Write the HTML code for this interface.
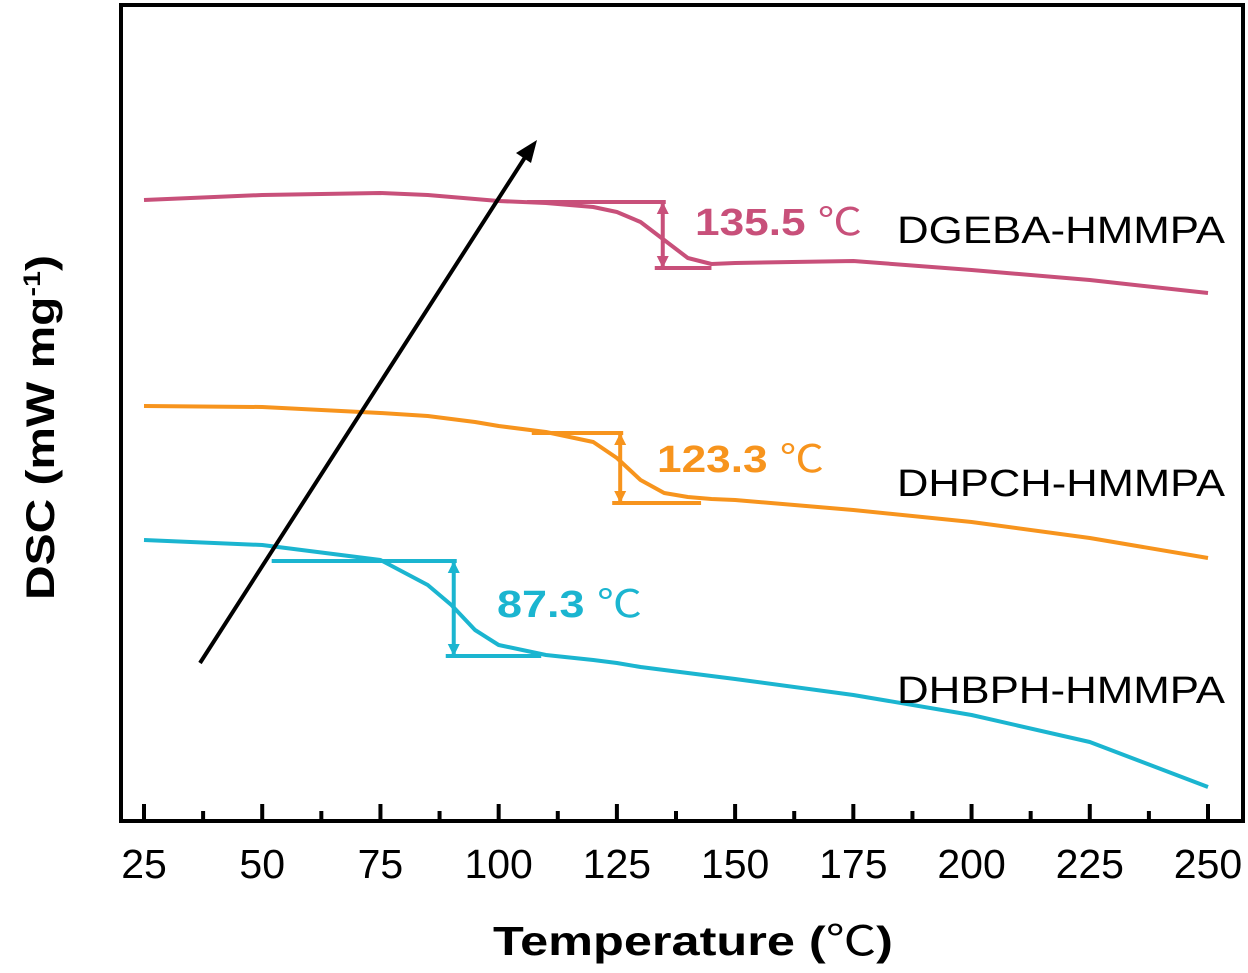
<!DOCTYPE html>
<html><head><meta charset="utf-8"><style>
html,body{margin:0;padding:0;background:#fff;}
svg{display:block;font-family:"Liberation Sans","Noto Sans CJK SC",sans-serif;}
</style></head><body>
<svg id="chart" width="1248" height="973" viewBox="0 0 1248 973">
<rect x="121" y="5" width="1122" height="816" fill="none" stroke="#000" stroke-width="4"/>
<g id="ticks"></g>
<g id="series"></g>
<line x1="200" y1="663" x2="531" y2="148" stroke="#000" stroke-width="4"/>
<polygon points="537,140 516,153 531,163" fill="#000"/>
<text x="695" y="235" font-size="38" font-weight="bold" fill="#c8507a" textLength="167" lengthAdjust="spacingAndGlyphs">135.5 <tspan font-weight="normal">℃</tspan></text>
<text x="657" y="472" font-size="38" font-weight="bold" fill="#f7941d" textLength="167" lengthAdjust="spacingAndGlyphs">123.3 <tspan font-weight="normal">℃</tspan></text>
<text x="497" y="617" font-size="38" font-weight="bold" fill="#1bb5d0" textLength="145" lengthAdjust="spacingAndGlyphs">87.3 <tspan font-weight="normal">℃</tspan></text>
<text x="897" y="243" font-size="38" fill="#000" textLength="328" lengthAdjust="spacingAndGlyphs">DGEBA-HMMPA</text>
<text x="897" y="496" font-size="38" fill="#000" textLength="328" lengthAdjust="spacingAndGlyphs">DHPCH-HMMPA</text>
<text x="897" y="703" font-size="38" fill="#000" textLength="328" lengthAdjust="spacingAndGlyphs">DHBPH-HMMPA</text>
<text x="493" y="955" font-size="41" font-weight="bold" textLength="400" lengthAdjust="spacingAndGlyphs">Temperature (<tspan font-weight="normal">℃</tspan>)</text>
<text transform="translate(54,600) rotate(-90)" font-size="40" font-weight="bold" textLength="345" lengthAdjust="spacingAndGlyphs">DSC (mW mg<tspan dy="-14" font-size="24">-1</tspan><tspan dy="14">)</tspan></text>
</svg>
<script>
const xTicks=[25,50,75,100,125,150,175,200,225,250];
const temps=[25,50,75,85,90,95,100,110,120,125,130,135,140,145,150,175,200,225,250];
const dgeba=[622,627,629,627,625,623,621,619,615,610,600,582,564,558,559,561,552,542,529];
const dhpch=[416,415,409,406,403,400,396,390,380,364,342,329,325,323,322,312,300,284,264];
const dhbph=[282,277,262,237,217,192,177,167,162,159,155,152,149,146,143,127,107,80,35];
const tgTemps=[134.7,125.7,90.5];
const tgUpper=[620,389,261];
const tgLower=[554,319,166];
const tgStart=[106,107,52];
const tgEnd=[145,142.8,109];
const colors=['#c8507a','#f7941d','#1bb5d0'];
const names=['dgeba','dhpch','dhbph'];
const X=t=>144+(t-25)*(1064/225);
const Y=v=>822-v;
const NS='http://www.w3.org/2000/svg';
const tg=document.getElementById('ticks');
xTicks.forEach((t,i)=>{
  const l=document.createElementNS(NS,'line');
  l.setAttribute('x1',X(t));l.setAttribute('x2',X(t));l.setAttribute('y1',821);l.setAttribute('y2',804);
  l.setAttribute('stroke','#000');l.setAttribute('stroke-width','4');
  
  
  tg.appendChild(l);
  if(i<xTicks.length-1){
    const m=document.createElementNS(NS,'line');
    const tm=t+12.5;
    m.setAttribute('x1',X(tm));m.setAttribute('x2',X(tm));m.setAttribute('y1',821);m.setAttribute('y2',811);
    m.setAttribute('stroke','#000');m.setAttribute('stroke-width','4');
    
    
    tg.appendChild(m);
  }
  const tx=document.createElementNS(NS,'text');
  tx.setAttribute('x',X(t));tx.setAttribute('y',878);tx.setAttribute('font-size','41');tx.setAttribute('text-anchor','middle');
  tx.textContent=t;
  
  
  tg.appendChild(tx);
});
const sg=document.getElementById('series');
[dgeba,dhpch,dhbph].forEach((vals,k)=>{
  const p=document.createElementNS(NS,'polyline');
  p.setAttribute('points',temps.map((t,i)=>X(t)+','+Y(vals[i])).join(' '));
  p.setAttribute('fill','none');p.setAttribute('stroke',colors[k]);p.setAttribute('stroke-width','4');p.setAttribute('stroke-linejoin','round');
  
  
  sg.appendChild(p);
  const tgx=X(tgTemps[k]);
  const segs=[[X(tgStart[k]),Y(tgUpper[k]),tgx+3,Y(tgUpper[k])],[tgx-8,Y(tgLower[k]),X(tgEnd[k]),Y(tgLower[k])],[tgx,Y(tgUpper[k]),tgx,Y(tgLower[k])]];
  segs.forEach(s=>{
    const l=document.createElementNS(NS,'line');
    l.setAttribute('x1',s[0]);l.setAttribute('y1',s[1]);l.setAttribute('x2',s[2]);l.setAttribute('y2',s[3]);
    l.setAttribute('stroke',colors[k]);l.setAttribute('stroke-width','4');
    
    
    sg.appendChild(l);
  });
  [[Y(tgUpper[k]),1],[Y(tgLower[k]),-1]].forEach(a=>{
    const h=document.createElementNS(NS,'polygon');
    const y0=a[0],d=a[1];
    h.setAttribute('points',`${tgx},${y0} ${tgx-6},${y0+d*12} ${tgx+6},${y0+d*12}`);
    h.setAttribute('fill',colors[k]);
    
    
    sg.appendChild(h);
  });
});
</script>
</body></html>
